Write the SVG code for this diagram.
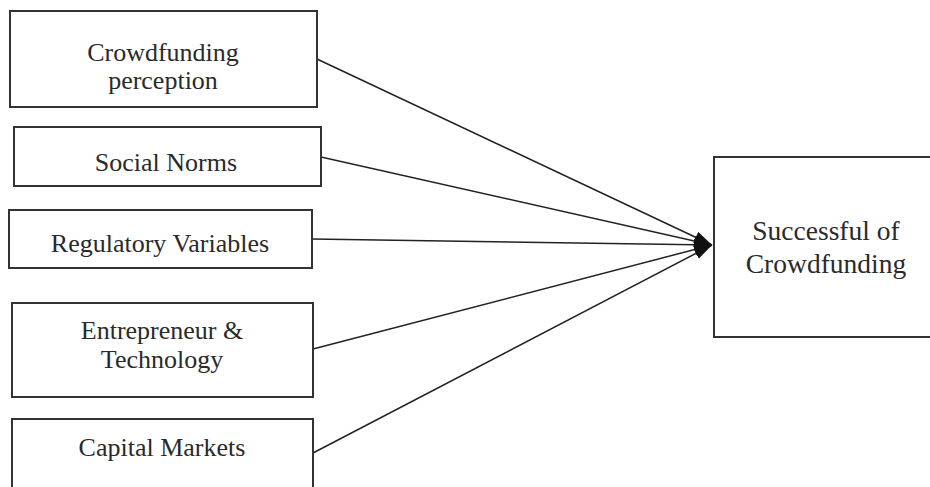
<svg xmlns="http://www.w3.org/2000/svg" width="930" height="487" viewBox="0 0 930 487">
<defs>
<style>
.box{fill:#fff;stroke:#333;stroke-width:2}
.t{font-family:"Liberation Serif","Times New Roman",serif;font-size:26px;fill:#2a2a2a;text-anchor:middle}
.tr{font-size:27.5px}
.c{stroke:#222;stroke-width:1.5;fill:none}
</style>
<marker id="ah" markerUnits="userSpaceOnUse" markerWidth="20" markerHeight="14" refX="18" refY="6" orient="auto">
<path d="M0,0 L18,6 L0,12 z" fill="#111"/>
</marker>
</defs>
<rect width="930" height="487" fill="#fff"/>
<g id="connectors">
<line class="c" x1="317" y1="59" x2="712" y2="245" marker-end="url(#ah)"/>
<line class="c" x1="321" y1="157" x2="712" y2="245" marker-end="url(#ah)"/>
<line class="c" x1="312" y1="239" x2="712" y2="245" marker-end="url(#ah)"/>
<line class="c" x1="313" y1="349" x2="712" y2="245" marker-end="url(#ah)"/>
<line class="c" x1="313" y1="453" x2="712" y2="245" marker-end="url(#ah)"/>
</g>
<g id="n1">
<rect class="box" x="10" y="11" width="307" height="96"/>
<text class="t" x="163" y="61">Crowdfunding</text>
<text class="t" x="163" y="89">perception</text>
</g>
<g id="n2">
<rect class="box" x="14" y="127" width="307" height="59"/>
<text class="t" x="166" y="171">Social Norms</text>
</g>
<g id="n3">
<rect class="box" x="9" y="210" width="303" height="58"/>
<text class="t" x="160" y="252">Regulatory Variables</text>
</g>
<g id="n4">
<rect class="box" x="12" y="303" width="301" height="94"/>
<text class="t" x="162" y="339">Entrepreneur &amp;</text>
<text class="t" x="162" y="368">Technology</text>
</g>
<g id="n5">
<rect class="box" x="12" y="419" width="301" height="90"/>
<text class="t" x="162" y="456">Capital Markets</text>
</g>
<g id="n6">
<rect class="box" x="714" y="157" width="226" height="180"/>
<text class="t tr" x="826" y="240">Successful of</text>
<text class="t tr" x="826" y="273">Crowdfunding</text>
</g>
</svg>
